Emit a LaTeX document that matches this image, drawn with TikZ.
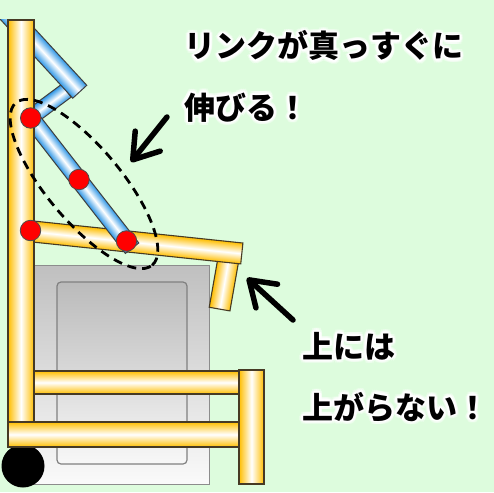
\documentclass[tikz,border=0pt]{standalone}
\usepackage{fontspec}
\newfontfamily\jpfont{Noto Sans CJK JP}
\usetikzlibrary{arrows.meta}

\definecolor{bg}{RGB}{221,252,221}
\definecolor{gold}{RGB}{255,190,0}
\definecolor{sky}{RGB}{45,150,230}
\definecolor{rodline}{RGB}{70,58,36}

\tikzset{
  goldrod/.style={draw=rodline, line width=1.1pt, top color=gold, bottom color=gold, middle color=white},
  goldrodv/.style={draw=rodline, line width=1.1pt, left color=gold, right color=gold, middle color=white},
  bluerod/.style={draw=black!75, line width=1pt, top color=sky, bottom color=sky, middle color=white},
  joint/.style={circle, fill=red, draw=black!70, line width=0.8pt, minimum size=20.5pt, inner sep=0pt},
  linkloop/.style={draw=black, line width=2.8pt, dash pattern=on 9pt off 6pt},
  pointer/.style={draw=black, line width=5.5pt, line cap=round,
    -{Straight Barb[length=24pt, width=32pt, round]}},
  caption/.style={font=\jpfont\bfseries\fontsize{31}{31}\selectfont, anchor=base west, inner sep=0pt},
}

% one straight rod: style, start x, start y, rotation, length, thickness
\newcommand{\rod}[6]{%
  \begin{scope}[transform canvas={shift={(#2,#3)}, rotate=#4}]
    \path[#1] (0,-#6/2) rectangle (#5,#6/2);
  \end{scope}}

% a caption line with a soft white halo behind it
\newcommand{\haloline}[3]{%
  \foreach \a [count=\k] in {0,30,...,330}{
    \node[caption, text=white, text opacity=0.4] (#1o\k) at ([shift={(\a:3.6pt)}]#2) {#3};
  }
  \foreach \a [count=\k] in {0,30,...,330}{
    \node[caption, text=white] (#1i\k) at ([shift={(\a:1.8pt)}]#2) {#3};
  }
  \node[caption] (#1) at (#2) {#3};
}

\begin{document}
\begin{tikzpicture}[x=1pt, y=-1pt]
  \useasboundingbox (0,0) rectangle (494,492);
  \fill[bg] (0,0) rectangle (494,492);

  % the box under the seat
  \path[draw=black!45, line width=0.8pt, top color=black!25, bottom color=black!2]
    (18,265) rectangle (209,484);
  \path[draw=black!50, line width=1.2pt, rounded corners=4pt, top color=black!27, bottom color=black!3]
    (57,282) rectangle (187,464);

  % wheel
  \fill[black] (23,466) circle (21.5);

  % seat with its front leg
  \rod{goldrod}{230}{250}{-100}{60}{21}
  \rod{goldrod}{28}{231}{-6}{215}{21}

  % folding link
  \rod{bluerod}{31}{117}{36.6}{44}{16}
  \begin{scope}
    \clip (0,20) rectangle (120,140);
    \rod{bluerod}{6}{11.5}{-47.4}{109}{19}
  \end{scope}
  \rod{bluerod}{25.8}{111.7}{-52.1}{173}{17}

  % frame
  \path[goldrodv] (8,20) rectangle (34,423);
  \path[goldrod] (34,371) rectangle (239,394);
  \path[goldrod] (8,422) rectangle (239,447);
  \path[goldrodv] (239,370) rectangle (264,484);

  % joints
  \node[joint] (j1) at (30.7,118) {};
  \node[joint] (j2) at (79,179.5) {};
  \node[joint] (j3) at (126.5,241) {};
  \node[joint] (j4) at (30.5,230.5) {};

  % dashed loop round the straightened link
  \draw[linkloop, rotate around={-50:(84,184)}] (84,184) ellipse [x radius=106pt, y radius=37pt];

  % pointers
  \coordinate (p1tail) at (167,117);
  \coordinate (p1tip) at (131,162);
  \coordinate (p2tail) at (293,320);
  \coordinate (p2tip) at (247,278);
  \draw[pointer] (p1tail) -- (p1tip);
  \draw[pointer] (p2tail) -- (p2tip);

  % captions
  \haloline{c1}{184,58}{リンクが真っすぐに}
  \haloline{c2}{184,119}{伸びる！}
  \haloline{c3}{302,358}{上には}
  \haloline{c4}{302,419}{上がらない！}
\end{tikzpicture}
\end{document}
